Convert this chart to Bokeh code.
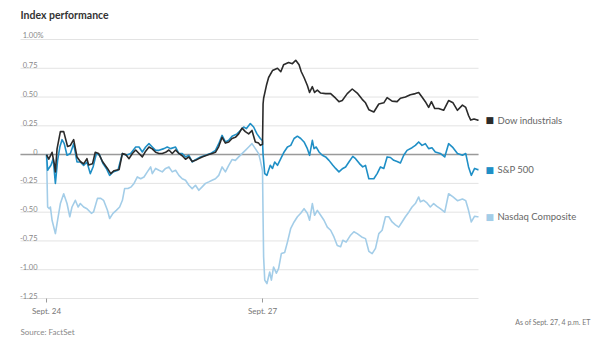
from bokeh.plotting import figure
from bokeh.models import Range1d
from bokeh.core.properties import value
from bokeh.embed import file_html
from bokeh.resources import INLINE

# ---- data: minutes since Sept. 24 open (Sept. 27 open = 390), % change ----
dow_t = [0, 4, 10, 14, 16, 19, 25, 31, 38, 43, 49, 55, 61, 67, 73, 76, 83, 88, 94, 101,
         110, 116, 122, 131, 137, 143, 149, 155, 161, 167, 173, 179, 185, 191, 197, 203, 209,
         215, 221, 227, 233, 239, 245, 251, 257, 263, 269, 275, 281, 287, 293, 299, 305, 311,
         317, 323, 329, 335, 341, 347, 353, 359, 365, 371, 377, 383, 386, 390,
         391, 392, 397, 401, 408, 412, 417, 423, 428, 437, 444, 450, 456, 460, 465, 471, 475,
         480, 484, 489, 495, 504, 513, 522, 528, 534, 543, 552, 561, 570, 576, 582, 591, 600,
         609, 615, 624, 633, 639, 648, 657, 666, 672, 678, 684, 690, 695, 701, 708, 717, 726,
         734, 742, 751, 757, 762, 766, 772, 778, 780]
dow_v = [0.00, -0.04, 0.02, -0.08, -0.15, 0.05, 0.20, 0.20, 0.07, 0.08, 0.13, -0.02, -0.06,
         -0.08, -0.035, -0.09, -0.08, 0.02, 0.01, -0.06, -0.12, -0.165, -0.14, -0.13, 0.01, 0.00,
         -0.035, 0.01, 0.04, 0.01, -0.02, 0.03, 0.066, 0.05, 0.02, 0.01, 0.01, 0.02, 0.04, 0.01,
         0.04, 0.01, -0.01, -0.04, -0.02, -0.06, -0.05, -0.035, -0.02, -0.01, 0.00, 0.01, 0.02,
         0.07, 0.15, 0.10, 0.11, 0.14, 0.15, 0.18, 0.23, 0.20, 0.18, 0.21, 0.11, 0.10, 0.08, 0.09,
         0.44, 0.49, 0.60, 0.67, 0.73, 0.74, 0.75, 0.72, 0.78, 0.80, 0.79, 0.82, 0.78, 0.72, 0.67,
         0.60, 0.54, 0.59, 0.54, 0.56, 0.535, 0.53, 0.53, 0.49, 0.46, 0.47, 0.53, 0.57, 0.535,
         0.48, 0.45, 0.39, 0.37, 0.44, 0.45, 0.495, 0.465, 0.46, 0.49, 0.50, 0.52, 0.53, 0.54,
         0.50, 0.46, 0.41, 0.46, 0.40, 0.40, 0.385, 0.47, 0.45, 0.385, 0.43, 0.41, 0.34, 0.30,
         0.31, 0.30, 0.30]

spx_t = [0, 2, 4, 8, 12, 16, 20, 24, 28, 32, 37, 43, 49, 55, 61, 67, 73, 79, 84, 90, 96, 102,
         108, 114, 120, 129, 137, 144, 152, 161, 167, 173, 179, 185, 191, 197, 203, 212, 218,
         224, 233, 239, 245, 251, 257, 263, 269, 278, 287, 296, 305, 311, 317, 323, 329, 335,
         344, 350, 356, 361, 368, 374, 380, 386, 390,
         391, 394, 398, 404, 408, 412, 417, 423, 429, 435, 441, 447, 453, 459, 465, 471, 475,
         480, 483, 487, 492, 498, 504, 510, 517, 522, 528, 535, 540, 546, 553, 558, 565, 571,
         576, 582, 591, 597, 603, 609, 615, 621, 627, 633, 639, 645, 651, 660, 666, 672, 678,
         684, 690, 696, 702, 711, 719, 726, 734, 742, 751, 757, 762, 767, 773, 778, 780]
spx_v = [0.00, -0.136, -0.12, -0.093, -0.035, -0.25, -0.05, 0.066, 0.13, 0.095, -0.006,
         0.009, 0.095, -0.064, -0.064, -0.093, -0.064, -0.165, -0.108, 0.009, -0.006, -0.078,
         -0.12, -0.18, -0.15, -0.136, 0.009, -0.006, 0.009, 0.066, 0.066, 0.023, 0.066, 0.095,
         0.066, 0.037, 0.037, 0.052, 0.066, 0.052, 0.066, 0.009, 0.009, -0.02, -0.006, -0.064,
         -0.044, -0.02, -0.006, 0.009, 0.037, 0.095, 0.167, 0.11, 0.124, 0.16, 0.18, 0.21, 0.24,
         0.226, 0.27, 0.24, 0.18, 0.14, 0.12,
         0.00, -0.165, -0.18, -0.093, -0.12, -0.064, -0.093, -0.035, 0.023, 0.066, 0.08, 0.14,
         0.16, 0.14, 0.11, 0.052, -0.006, 0.124, 0.052, 0.066, 0.023, -0.006, -0.02, -0.05,
         -0.093, -0.12, -0.15, -0.12, -0.107, -0.064, -0.015, -0.035, -0.078, -0.107, -0.093,
         -0.21, -0.21, -0.165, -0.107, -0.12, -0.02, -0.025, -0.05, -0.06, -0.073, -0.006,
         0.037, 0.06, 0.08, 0.11, 0.08, 0.095, 0.052, 0.06, 0.023, 0.01, -0.02, 0.095, 0.06,
         0.009, -0.006, 0.009, -0.107, -0.18, -0.12, -0.13, -0.13]

ndx_t = [0, 2, 5, 7, 10, 16, 20, 25, 31, 37, 42, 46, 52, 57, 61, 67, 73, 81, 85, 92, 98,
         103, 110, 114, 120, 126, 132, 137, 141, 147, 153, 158, 164, 170, 176, 182, 188, 191,
         197, 203, 209, 215, 221, 227, 233, 239, 245, 251, 257, 263, 269, 275, 281, 287, 293,
         299, 305, 311, 317, 323, 329, 335, 341, 347, 353, 359, 365, 371, 377, 383, 386, 390,
         391, 392, 394, 398, 403, 406, 410, 415, 419, 424, 430, 435, 441, 447, 453, 459, 465,
         471, 475, 480, 484, 489, 495, 501, 507, 513, 519, 525, 531, 535, 541, 549, 555, 561,
         569, 576, 582, 588, 594, 600, 606, 612, 618, 624, 630, 636, 642, 648, 654, 660, 666,
         672, 675, 681, 687, 693, 699, 705, 711, 719, 726, 734, 742, 751, 757, 762, 767, 773,
         778, 780]
ndx_v = [0.00, -0.455, -0.47, -0.455, -0.57, -0.686, -0.57, -0.425, -0.34, -0.425, -0.54,
         -0.455, -0.397, -0.455, -0.425, -0.455, -0.47, -0.51, -0.497, -0.38, -0.38, -0.397,
         -0.484, -0.555, -0.51, -0.484, -0.455, -0.397, -0.295, -0.295, -0.28, -0.25, -0.194,
         -0.21, -0.194, -0.15, -0.107, -0.165, -0.12, -0.136, -0.15, -0.12, -0.107, -0.15,
         -0.136, -0.18, -0.21, -0.223, -0.266, -0.295, -0.266, -0.31, -0.28, -0.25, -0.237,
         -0.223, -0.21, -0.18, -0.107, -0.15, -0.093, -0.043, -0.05, -0.02, 0.009, 0.037,
         0.066, 0.095, 0.052, 0.009, -0.05, -0.14,
         -0.54, -0.89, -1.09, -1.12, -1.02, -1.09, -0.976, -1.03, -0.99, -0.86, -0.85, -0.76,
         -0.64, -0.585, -0.54, -0.51, -0.47, -0.51, -0.57, -0.425, -0.527, -0.484, -0.527,
         -0.57, -0.63, -0.657, -0.715, -0.79, -0.80, -0.744, -0.76, -0.70, -0.67, -0.686,
         -0.715, -0.73, -0.84, -0.86, -0.815, -0.686, -0.657, -0.54, -0.54, -0.585, -0.61,
         -0.63, -0.585, -0.54, -0.50, -0.455, -0.425, -0.368, -0.41, -0.397, -0.42, -0.455,
         -0.425, -0.45, -0.47, -0.50, -0.34, -0.368, -0.40, -0.385, -0.40, -0.484, -0.585,
         -0.535, -0.54, -0.54]

series_names = ["Dow industrials", "S&P 500", "Nasdaq Composite"]
series_colors = ["#2b2b2b", "#1f8fc6", "#a3cde8"]

y_ticks = [1.00, 0.75, 0.50, 0.25, 0.0, -0.25, -0.50, -0.75, -1.00, -1.25]
y_tick_labels = ["1.00%", "0.75", "0.50", "0.25", "0", "-0.25", "-0.50", "-0.75", "-1.00", "-1.25"]
x_ticks = [0, 390]
x_tick_labels = ["Sept. 24", "Sept. 27"]

title_text = "Index performance"
source_text = "Source: FactSet"
asof_text = "As of Sept. 27, 4 p.m. ET"

FONT = "Lato"

# plot window (data units) and the whole canvas extent around it
X0, X1 = -47, 780          # grid extent
Y0, Y1 = -1.25, 1.0956     # grid extent (bottom gridline to top padding)
PX_X = (X1 - X0) / 458.0   # minutes per pixel
PX_Y = (Y1 - Y0) / 270.0   # % per pixel

p = figure(width=600, height=353, output_backend="svg", toolbar_location=None,
           x_range=Range1d(X0 - 20 * PX_X, X1 + 122 * PX_X),
           y_range=Range1d(Y0 - 55 * PX_Y, Y1 + 28 * PX_Y),
           x_axis_type=None, y_axis_type=None, min_border=0)
p.outline_line_color = None
p.background_fill_color = "white"
p.border_fill_color = "white"
p.xgrid.visible = False
p.ygrid.visible = False

# gridlines
p.segment(x0=[X0] * len(y_ticks), x1=[X1] * len(y_ticks), y0=y_ticks, y1=y_ticks,
          line_color="#e3e3e3", line_width=1)
p.segment(x0=[X0], x1=[X1], y0=[0], y1=[0], line_color="#9a9a9a", line_width=1.5)

# y tick labels sitting on the gridlines (numbers right-aligned, "%" overhanging)
p.text(x=[X0] * (len(y_ticks) - 1), y=y_ticks[1:], text=y_tick_labels[1:], x_offset=17,
       text_align="right", text_baseline="bottom", text_font=value(FONT),
       text_font_size="7.5px", text_color="#888888")
p.text(x=[X0], y=[y_ticks[0]], text=[y_tick_labels[0]], x_offset=23,
       text_align="right", text_baseline="bottom", text_font=value(FONT),
       text_font_size="7.5px", text_color="#888888")

# x ticks and labels
p.segment(x0=x_ticks, x1=x_ticks, y0=[Y0] * 2, y1=[Y0 - 4 * PX_Y] * 2,
          line_color="#999999", line_width=1)
p.text(x=x_ticks, y=[Y0 - 12 * PX_Y] * 2, text=x_tick_labels, text_align="center",
       text_baseline="middle", text_font=value(FONT), text_font_size="8px",
       text_color="#777777")

for t, v, c in [(ndx_t, ndx_v, series_colors[2]), (spx_t, spx_v, series_colors[1]),
                (dow_t, dow_v, series_colors[0])]:
    p.line(t, v, line_color=c, line_width=1.6, line_join="round")

# legend at line ends
ends = [dow_v[-1], spx_v[-1], ndx_v[-1]]
p.text(x=[dow_t[-1]] * 3, y=ends, text=["■"] * 3, x_offset=7, text_color=series_colors,
       text_font=value("DejaVu Sans"), text_font_size="9px", text_baseline="middle",
       text_align="left")
p.text(x=[dow_t[-1]] * 3, y=ends, text=series_names, x_offset=19, text_color="#666666",
       text_font=value(FONT), text_font_size="9.5px", text_baseline="middle",
       text_align="left")

# title and notes
p.text(x=[X0], y=[Y1 + 14 * PX_Y], text=[title_text], text_font=value(FONT),
       text_font_size="10.5px", text_font_style="bold", text_color="#333333",
       text_baseline="middle", text_align="left")
p.text(x=[X1], y=[Y0 - 23 * PX_Y], text=[asof_text], x_offset=112, text_font=value(FONT),
       text_font_size="7px", text_color="#777777", text_baseline="middle",
       text_align="right")
p.text(x=[X0], y=[Y0 - 33 * PX_Y], text=[source_text], text_font=value(FONT),
       text_font_size="8px", text_color="#888888", text_baseline="middle",
       text_align="left")

open("out.html", "w").write(file_html(p, INLINE))
